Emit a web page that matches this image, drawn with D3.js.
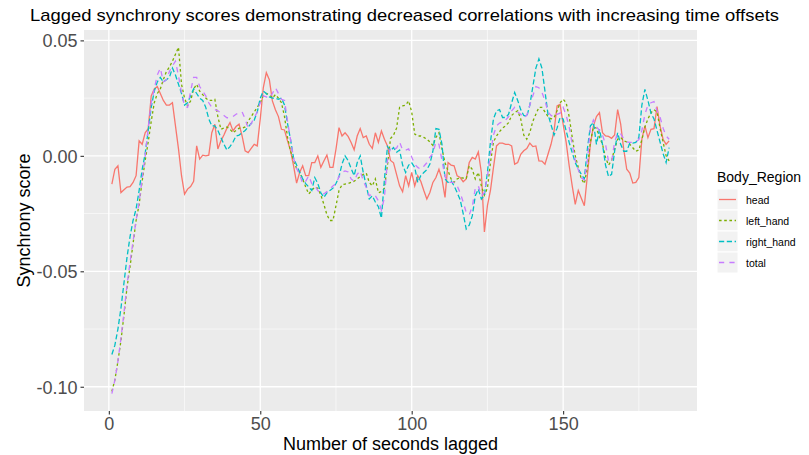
<!DOCTYPE html>
<html>
<head>
<meta charset="utf-8">
<script src="https://cdn.jsdelivr.net/npm/d3@7"></script>
<style>
  body { margin: 0; background: #fff; }
  svg text { font-family: "Liberation Sans", Arial, sans-serif; }
</style>
</head>
<body>
<div id="my_dataviz"></div>
<script>
// lag in seconds (x axis)
var lags = d3.range(1, 186);

var regions = ["head", "left_hand", "right_hand", "total"];

// synchrony scores, one value per lag
var head = [
  -0.0122, -0.0058, -0.0043, -0.0159, -0.0147, -0.0135, -0.0133, -0.0115, -0.0086, 0.0065,
  0.0050, 0.0100, 0.0118, 0.0260, 0.0290, 0.0300, 0.0270, 0.0240, 0.0220, 0.0220,
  0.0230, 0.0130, 0.0030, -0.0086, -0.0166, -0.0144, -0.0133, -0.0110, 0.0043, -0.0014,
  0.0003, 0.0000, 0.0003, 0.0100, 0.0137, 0.0030, 0.0065, 0.0090, 0.0120, 0.0144,
  0.0108, 0.0127, 0.0137, 0.0086, 0.0022, 0.0014, 0.0032, 0.0050, 0.0043, 0.0160,
  0.0295, 0.0360, 0.0330, 0.0238, 0.0200, 0.0170, 0.0115, 0.0112, 0.0065, 0.0022,
  -0.0043, -0.0118, -0.0072, -0.0043, -0.0086, -0.0086, -0.0029, -0.0029, 0.0000, -0.0050,
  -0.0022, 0.0003, -0.0050, -0.0050, 0.0029, 0.0122, 0.0086, 0.0100, 0.0084, 0.0058,
  0.0026, 0.0086, 0.0118, 0.0079, 0.0086, 0.0050, 0.0032, 0.0100, 0.0058, 0.0108,
  0.0072, 0.0043, -0.0020, -0.0030, -0.0080, -0.0130, -0.0156, -0.0086, -0.0130, -0.0072,
  -0.0130, -0.0086, -0.0110, -0.0150, -0.0187, -0.0159, -0.0115, -0.0094, -0.0058, -0.0100,
  -0.0180, -0.0029, -0.0040, -0.0043, -0.0086, -0.0094, -0.0112, -0.0100, -0.0029, -0.0007,
  -0.0014, 0.0017, -0.0072, -0.0330, -0.0216, -0.0150, -0.0050, 0.0043, 0.0055, 0.0055,
  0.0050, 0.0050, 0.0043, -0.0036, -0.0029, 0.0007, 0.0022, 0.0032, 0.0055, 0.0040,
  0.0043, -0.0022, -0.0023, -0.0036, 0.0007, 0.0050, 0.0108, 0.0216, 0.0223, 0.0137,
  0.0058, -0.0043, -0.0130, -0.0210, -0.0150, -0.0184, -0.0216, -0.0086, 0.0050, 0.0130,
  0.0170, 0.0187, 0.0100, 0.0086, 0.0084, 0.0076, 0.0090, 0.0200, 0.0137, 0.0029,
  -0.0058, -0.0075, -0.0118, -0.0115, -0.0094, 0.0072, 0.0130, 0.0079, 0.0115, 0.0118,
  0.0213, 0.0130, 0.0072, 0.0050, 0.0065
];

var left_hand = [
  -0.1020, -0.0970, -0.0890, -0.0800, -0.0690, -0.0570, -0.0480, -0.0380, -0.0280, -0.0210,
  -0.0110, -0.0020, 0.0060, 0.0150, 0.0230, 0.0270, 0.0290, 0.0330, 0.0365, 0.0385,
  0.0410, 0.0440, 0.0470, 0.0310, 0.0250, 0.0216, 0.0238, 0.0290, 0.0310, 0.0280,
  0.0265, 0.0250, 0.0240, 0.0240, 0.0245, 0.0170, 0.0115, 0.0120, 0.0125, 0.0115,
  0.0100, 0.0110, 0.0120, 0.0120, 0.0125, 0.0150, 0.0170, 0.0190, 0.0210, 0.0230,
  0.0260, 0.0270, 0.0265, 0.0250, 0.0265, 0.0250, 0.0230, 0.0170, 0.0080, 0.0020,
  -0.0020, -0.0055, -0.0072, -0.0100, -0.0135, -0.0165, -0.0150, -0.0135, -0.0140, -0.0170,
  -0.0210, -0.0255, -0.0280, -0.0280, -0.0216, -0.0150, -0.0125, -0.0122, -0.0120, -0.0115,
  -0.0110, -0.0100, -0.0090, -0.0080, -0.0075, -0.0115, -0.0130, -0.0100, -0.0160, -0.0155,
  -0.0140, -0.0040, 0.0075, 0.0090, 0.0120, 0.0210, 0.0216, 0.0220, 0.0238, 0.0190,
  0.0094, 0.0086, 0.0086, 0.0080, 0.0072, 0.0060, 0.0045, 0.0080, 0.0100, 0.0030,
  -0.0030, -0.0065, -0.0100, -0.0115, -0.0100, -0.0094, -0.0096, -0.0100, -0.0043, -0.0058,
  -0.0100, -0.0072, -0.0130, -0.0170, -0.0140, -0.0030, 0.0060, 0.0086, 0.0105, 0.0120,
  0.0130, 0.0144, 0.0175, 0.0187, 0.0195, 0.0160, 0.0090, 0.0072, 0.0100, 0.0150,
  0.0180, 0.0210, 0.0210, 0.0190, 0.0170, 0.0160, 0.0165, 0.0195, 0.0230, 0.0245,
  0.0230, 0.0170, 0.0080, 0.0000, -0.0050, -0.0100, -0.0120, -0.0050, 0.0060, 0.0125,
  0.0120, 0.0080, 0.0050, -0.0007, -0.0040, -0.0020, 0.0030, 0.0072, 0.0080, 0.0065,
  0.0060, 0.0050, 0.0035, 0.0020, 0.0025, 0.0070, 0.0125, 0.0160, 0.0187, 0.0200,
  0.0190, 0.0120, 0.0060, 0.0000, -0.0022
];

var right_hand = [
  -0.0860, -0.0820, -0.0750, -0.0660, -0.0550, -0.0440, -0.0350, -0.0280, -0.0230, -0.0150,
  -0.0060, 0.0010, 0.0110, 0.0210, 0.0280, 0.0320, 0.0340, 0.0320, 0.0330, 0.0340,
  0.0380, 0.0350, 0.0310, 0.0270, 0.0220, 0.0230, 0.0260, 0.0290, 0.0270, 0.0250,
  0.0240, 0.0210, 0.0160, 0.0130, 0.0130, 0.0110, 0.0080, 0.0050, 0.0025, 0.0040,
  0.0060, 0.0086, 0.0090, 0.0100, 0.0110, 0.0125, 0.0140, 0.0155, 0.0190, 0.0250,
  0.0280, 0.0270, 0.0255, 0.0250, 0.0250, 0.0245, 0.0250, 0.0220, 0.0140, 0.0070,
  -0.0010, -0.0040, -0.0070, -0.0100, -0.0120, -0.0135, -0.0150, -0.0094, -0.0120, -0.0160,
  -0.0180, -0.0160, -0.0150, -0.0140, -0.0120, -0.0090, -0.0035, 0.0000, -0.0020, -0.0055,
  -0.0086, -0.0030, 0.0000, -0.0072, -0.0130, -0.0187, -0.0173, -0.0200, -0.0220, -0.0270,
  -0.0100, 0.0040, 0.0022, 0.0036, 0.0015, 0.0025, -0.0040, -0.0072, -0.0040, -0.0030,
  -0.0050, -0.0115, -0.0086, -0.0072, -0.0060, -0.0035, 0.0020, 0.0118, 0.0115, 0.0050,
  -0.0100, -0.0115, -0.0108, -0.0130, -0.0159, -0.0190, -0.0250, -0.0317, -0.0300, -0.0260,
  -0.0173, -0.0144, -0.0187, -0.0170, -0.0072, 0.0060, 0.0160, 0.0195, 0.0200, 0.0166,
  0.0166, 0.0180, 0.0230, 0.0274, 0.0240, 0.0200, 0.0175, 0.0170, 0.0220, 0.0300,
  0.0380, 0.0420, 0.0380, 0.0280, 0.0180, 0.0135, 0.0090, 0.0120, 0.0166, 0.0160,
  0.0108, 0.0058, 0.0014, -0.0029, -0.0058, -0.0080, -0.0100, 0.0029, 0.0130, 0.0144,
  0.0050, 0.0115, 0.0050, -0.0040, -0.0090, -0.0080, 0.0020, 0.0100, 0.0050, 0.0020,
  0.0020, 0.0055, 0.0055, 0.0058, 0.0080, 0.0220, 0.0288, 0.0240, 0.0185, 0.0160,
  0.0110, 0.0060, 0.0010, -0.0029, 0.0036
];

var total = [
  -0.1030, -0.0970, -0.0890, -0.0790, -0.0680, -0.0560, -0.0460, -0.0370, -0.0280, -0.0200,
  -0.0100, 0.0000, 0.0120, 0.0230, 0.0290, 0.0350, 0.0380, 0.0320, 0.0330, 0.0365,
  0.0390, 0.0410, 0.0346, 0.0274, 0.0216, 0.0210, 0.0280, 0.0340, 0.0340, 0.0300,
  0.0280, 0.0260, 0.0230, 0.0210, 0.0200, 0.0195, 0.0185, 0.0175, 0.0165, 0.0165,
  0.0170, 0.0180, 0.0187, 0.0190, 0.0160, 0.0120, 0.0140, 0.0165, 0.0190, 0.0230,
  0.0260, 0.0255, 0.0250, 0.0270, 0.0295, 0.0270, 0.0245, 0.0240, 0.0150, 0.0070,
  -0.0010, -0.0055, -0.0080, -0.0120, -0.0110, -0.0086, -0.0120, -0.0130, -0.0150, -0.0165,
  -0.0165, -0.0155, -0.0144, -0.0130, -0.0120, -0.0090, -0.0072, -0.0065, -0.0070, -0.0100,
  -0.0110, -0.0080, -0.0065, -0.0108, -0.0137, -0.0173, -0.0165, -0.0173, -0.0195, -0.0235,
  -0.0180, -0.0020, 0.0036, 0.0030, 0.0033, 0.0060, 0.0025, 0.0025, 0.0030, -0.0005,
  -0.0036, -0.0050, -0.0058, -0.0045, -0.0030, -0.0005, 0.0010, 0.0060, 0.0050, -0.0020,
  -0.0090, -0.0115, -0.0115, -0.0115, -0.0130, -0.0160, -0.0200, -0.0245, -0.0255, -0.0220,
  -0.0140, -0.0130, -0.0173, -0.0159, -0.0090, 0.0010, 0.0090, 0.0130, 0.0142, 0.0146,
  0.0155, 0.0170, 0.0195, 0.0210, 0.0190, 0.0180, 0.0165, 0.0175, 0.0220, 0.0260,
  0.0300, 0.0295, 0.0275, 0.0240, 0.0190, 0.0175, 0.0168, 0.0180, 0.0185, 0.0210,
  0.0175, 0.0125, 0.0050, -0.0020, -0.0060, -0.0095, -0.0105, -0.0020, 0.0120, 0.0155,
  0.0125, 0.0110, 0.0090, 0.0050, -0.0025, -0.0025, 0.0060, 0.0100, 0.0095, 0.0075,
  0.0060, 0.0058, 0.0058, 0.0060, 0.0070, 0.0110, 0.0180, 0.0220, 0.0230, 0.0235,
  0.0195, 0.0168, 0.0120, 0.0086, 0.0072
];

var xTicks = [0, 50, 100, 150];
var yTicks = [-0.10, -0.05, 0.00, 0.05];
var xMinor = [25, 75, 125, 175];
var yMinor = [-0.075, -0.025, 0.025];

var series = [head, left_hand, right_hand, total];
var colors = ["#F8766D", "#7CAE00", "#00BFC4", "#C77CFF"];
// ggplot linetypes solid, 22, 42, 44 scaled by line width
var dashes = [null, "2.6,2.6", "5.2,2.6", "5.2,5.2"];

var width = 809, height = 455;
var panel = {left: 84, right: 697, top: 30, bottom: 411};

var svg = d3.select("#my_dataviz")
  .append("svg")
    .attr("width", width)
    .attr("height", height);

// ggplot style 5% expansion of the data range
function expand(ext) {
  var pad = (ext[1] - ext[0]) * 0.05;
  return [ext[0] - pad, ext[1] + pad];
}
var allY = [].concat(head, left_hand, right_hand, total);

var x = d3.scaleLinear()
  .domain(expand(d3.extent(lags)))
  .range([panel.left, panel.right]);
var y = d3.scaleLinear()
  .domain(expand(d3.extent(allY)))
  .range([panel.bottom, panel.top]);

// panel background
svg.append("rect")
  .attr("x", panel.left).attr("y", panel.top)
  .attr("width", panel.right - panel.left)
  .attr("height", panel.bottom - panel.top)
  .attr("fill", "#EBEBEB");

// grid
var grid = svg.append("g");
grid.selectAll(".xminor").data(xMinor).enter().append("line")
  .attr("x1", function(d) { return x(d); }).attr("x2", function(d) { return x(d); })
  .attr("y1", panel.top).attr("y2", panel.bottom)
  .attr("stroke", "#fff").attr("stroke-width", 0.6);
grid.selectAll(".yminor").data(yMinor).enter().append("line")
  .attr("y1", function(d) { return y(d); }).attr("y2", function(d) { return y(d); })
  .attr("x1", panel.left).attr("x2", panel.right)
  .attr("stroke", "#fff").attr("stroke-width", 0.6);
grid.selectAll(".xmajor").data(xTicks).enter().append("line")
  .attr("x1", function(d) { return x(d); }).attr("x2", function(d) { return x(d); })
  .attr("y1", panel.top).attr("y2", panel.bottom)
  .attr("stroke", "#fff").attr("stroke-width", 1.3);
grid.selectAll(".ymajor").data(yTicks).enter().append("line")
  .attr("y1", function(d) { return y(d); }).attr("y2", function(d) { return y(d); })
  .attr("x1", panel.left).attr("x2", panel.right)
  .attr("stroke", "#fff").attr("stroke-width", 1.3);

// lines, drawn in legend order so total ends on top
var line = d3.line()
  .x(function(d, i) { return x(lags[i]); })
  .y(function(d) { return y(d); });

svg.append("g")
  .selectAll("path")
  .data(series)
  .enter()
  .append("path")
    .attr("d", line)
    .attr("fill", "none")
    .attr("stroke", function(d, i) { return colors[i]; })
    .attr("stroke-width", 1.3)
    .attr("stroke-dasharray", function(d, i) { return dashes[i]; });

// axes (R prints a plain hyphen for the minus sign)
var yFmt = function(d) { return d3.format(".2f")(d).replace("\u2212", "-"); };

var xAxis = svg.append("g")
  .attr("transform", "translate(0," + panel.bottom + ")")
  .call(d3.axisBottom(x).tickValues(xTicks).tickSize(3.5).tickPadding(3).tickFormat(d3.format("d")));
var yAxis = svg.append("g")
  .attr("transform", "translate(" + panel.left + ",0)")
  .call(d3.axisLeft(y).tickValues(yTicks).tickSize(3.5).tickPadding(3).tickFormat(yFmt));

[xAxis, yAxis].forEach(function(a) {
  a.select(".domain").remove();
  a.selectAll(".tick line").attr("stroke", "#333333").attr("stroke-width", 1.1);
  a.selectAll(".tick text")
    .attr("fill", "#4D4D4D")
    .style("font-size", "18px")
    .style("font-family", "'Liberation Sans', Arial, sans-serif");
});
yAxis.selectAll(".tick text").attr("dy", "0.36em");

// titles
svg.append("text")
  .attr("x", 30).attr("y", 21)
  .attr("textLength", 749)
  .attr("lengthAdjust", "spacingAndGlyphs")
  .style("font-size", "17px")
  .attr("fill", "#000")
  .text("Lagged synchrony scores demonstrating decreased correlations with increasing time offsets");

svg.append("text")
  .attr("x", (panel.left + panel.right) / 2).attr("y", 450)
  .attr("text-anchor", "middle")
  .style("font-size", "18px")
  .text("Number of seconds lagged");

svg.append("text")
  .attr("transform", "translate(30," + ((panel.top + panel.bottom) / 2) + ") rotate(-90)")
  .attr("text-anchor", "middle")
  .style("font-size", "18px")
  .text("Synchrony score");

// legend
var legend = svg.append("g").attr("transform", "translate(717,0)");
legend.append("text")
  .attr("x", 0).attr("y", 182)
  .style("font-size", "14px")
  .text("Body_Region");

var keys = legend.selectAll(".key")
  .data(regions)
  .enter()
  .append("g")
    .attr("transform", function(d, i) { return "translate(0," + (189 + i * 21) + ")"; });
keys.append("rect")
  .attr("width", 21).attr("height", 21)
  .attr("fill", "#F2F2F2").attr("stroke", "#fff");
keys.append("line")
  .attr("x1", 2).attr("x2", 19)
  .attr("y1", 10.5).attr("y2", 10.5)
  .attr("stroke", function(d, i) { return colors[i]; })
  .attr("stroke-width", 1.3)
  .attr("stroke-dasharray", function(d, i) { return dashes[i]; });
keys.append("text")
  .attr("x", 29).attr("y", 14.5)
  .style("font-size", "10.5px")
  .text(function(d) { return d; });
</script>
</body>
</html>
